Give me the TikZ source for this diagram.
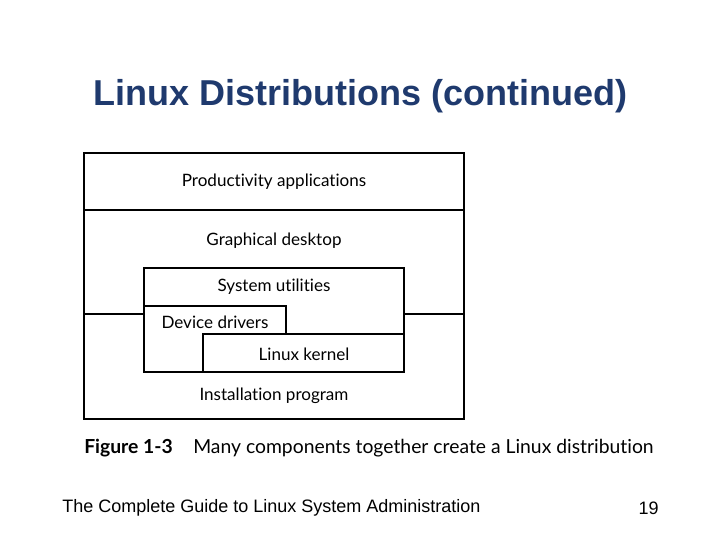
\documentclass[tikz,border=0pt]{standalone}
\usepackage{fontspec}
\setmainfont{Liberation Sans}
\newfontfamily\boxfont[Ligatures=NoCommon]{Lato}
\definecolor{titleblue}{HTML}{1F3A6E}
\begin{document}
\begin{tikzpicture}[x=0.75pt,y=-0.75pt,
  lbl/.style={font=\boxfont\fontsize{12.8}{14}\selectfont,inner sep=0pt},
  bx/.style={draw=black,line width=1.2pt}]
\useasboundingbox (0,0) rectangle (720,540);
\node[font=\bfseries\fontsize{27}{31}\selectfont,text=titleblue] (title) at (360,96) {Linux Distributions (continued)};
\draw[bx] (84,153) rectangle (464,419);
\draw[bx] (84,210) -- (464,210);
\draw[bx] (84,314) -- (144,314);
\draw[bx] (404,314) -- (464,314);
\draw[bx] (144,268) rectangle (404,372);
\draw[bx] (144,306) -- (286,306) -- (286,334) -- (203,334) -- (203,372);
\draw[bx] (203,334) -- (404,334);
\node[lbl] (p) at (274,182) {Productivity applications};
\node[lbl] (g) at (274,241) {Graphical desktop};
\node[lbl] (s) at (274,287) {System utilities};
\node[lbl] (d) at (215,322) {Device drivers};
\node[lbl] (k) at (304,354) {Linux kernel};
\node[lbl] (i) at (274,396) {Installation program};
\node[anchor=west,inner sep=0pt,font=\boxfont\bfseries\fontsize{14.5}{17}\selectfont] (fig) at (84,448) {Figure 1-3};
\node[anchor=west,inner sep=0pt,font=\boxfont\fontsize{14.5}{17}\selectfont] (cap) at (193,448) {Many components together create a Linux distribution};
\node[anchor=west,inner sep=0pt,font=\fontsize{13.5}{16}\selectfont] (foot) at (62,508) {The Complete Guide to Linux System Administration};
\node[anchor=east,inner sep=0pt,font=\fontsize{13.5}{16}\selectfont] (num) at (659,508) {19};
\end{tikzpicture}
\end{document}
